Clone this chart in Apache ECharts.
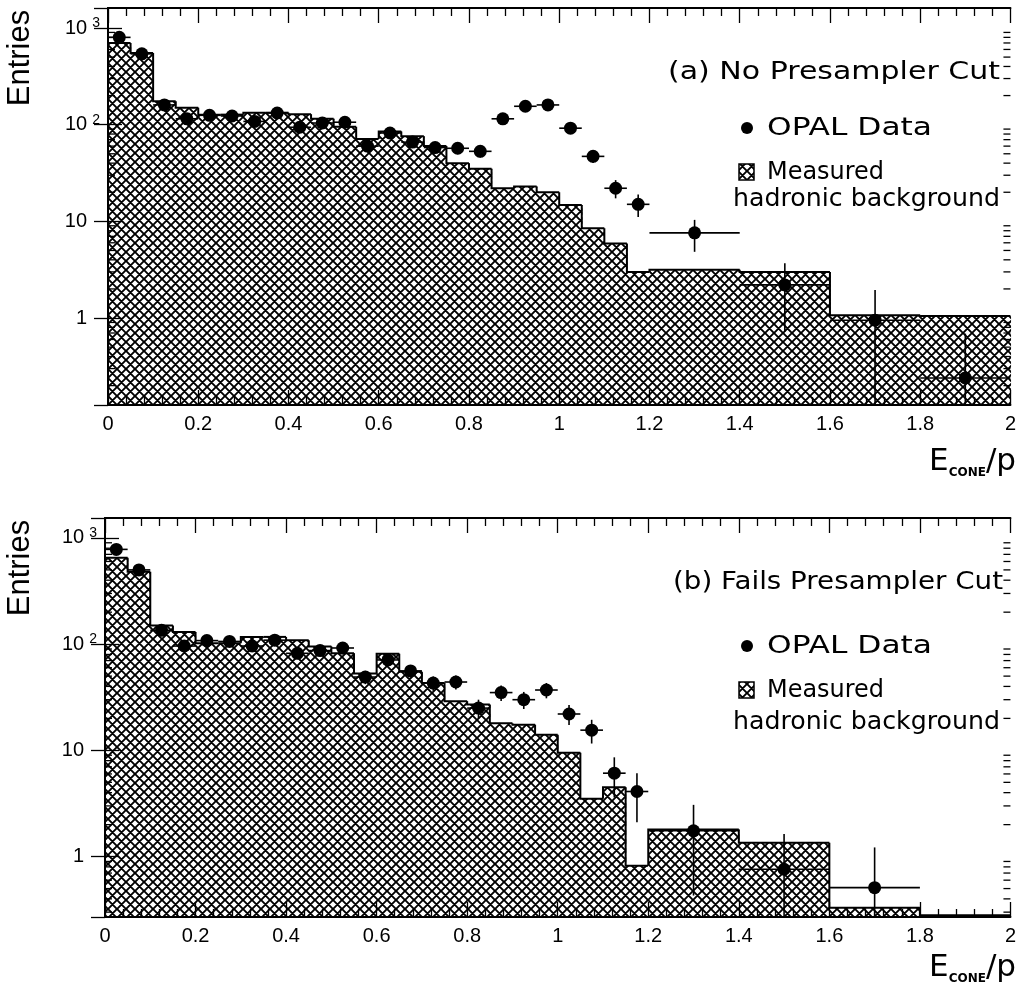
<!DOCTYPE html>
<html>
<head>
<meta charset="utf-8">
<title>E_cone/p</title>
<script src="https://cdn.jsdelivr.net/npm/echarts@6/dist/echarts.min.js"></script>
<style>
  html, body { margin: 0; padding: 0; background: #fff; }
  #chart { width: 1019px; height: 996px; }
</style>
</head>
<body>
<div id="chart"></div>
<script>
// bin edges of the histograms (E_cone/p)
var binEdges = [0, 0.05, 0.1, 0.15, 0.2, 0.25, 0.3, 0.35, 0.4, 0.45, 0.5, 0.55, 0.6, 0.65, 0.7, 0.75,
  0.8, 0.85, 0.9, 0.95, 1.0, 1.05, 1.1, 1.15, 1.2, 1.4, 1.6, 1.8, 2.0];

// measured hadronic background, one value per bin
var bgA = [700, 550, 175, 150, 127, 127, 133, 133, 128, 115, 95, 71, 85, 76, 60, 40,
  35, 22, 23, 20, 14.8, 8.5, 5.9, 3.0, 3.15, 3.0, 1.07, 1.05];
var bgB = [650, 480, 150, 130, 102, 102, 117, 117, 109, 95, 82, 53, 81, 55, 43, 29,
  27, 18, 17.4, 14, 9.5, 3.5, 4.5, 0.82, 1.8, 1.35, 0.33, 0.28];

// OPAL data points
var ptX = [0.025, 0.075, 0.125, 0.175, 0.225, 0.275, 0.325, 0.375, 0.425, 0.475, 0.525, 0.575,
  0.625, 0.675, 0.725, 0.775, 0.825, 0.875, 0.925, 0.975, 1.025, 1.075, 1.125, 1.175, 1.3, 1.5, 1.7, 1.9];
var ptXerr = [0.025, 0.025, 0.025, 0.025, 0.025, 0.025, 0.025, 0.025, 0.025, 0.025, 0.025, 0.025,
  0.025, 0.025, 0.025, 0.025, 0.025, 0.025, 0.025, 0.025, 0.025, 0.025, 0.025, 0.025, 0.1, 0.1, 0.1, 0.1];

var dataA = [800, 540, 160, 115, 125, 123, 108, 132, 94, 104, 106, 60,
  82, 66, 58, 57, 53, 115, 155, 160, 92, 47, 22, 15, 7.6, 2.2, 0.95, 0.24];
var errA = [28, 23, 12.6, 10.7, 11.2, 11.1, 10.4, 11.5, 9.7, 10.2, 10.3, 7.7,
  9.1, 8.1, 7.6, 7.5, 7.3, 10.7, 12.4, 12.6, 9.6, 6.9, 4.7, 3.9, 2.76, 1.48, 1.0, 0.45];

var dataB = [780, 500, 135, 96, 108, 106, 96, 109, 82, 87, 92, 49,
  71, 56, 43, 44, 25, 35, 30, 37, 22, 15.5, 6.1, 4.1, 1.75, 0.76, 0.51];
var errB = [28, 22, 11.6, 9.8, 10.4, 10.3, 9.8, 10.4, 9.1, 9.3, 9.6, 7,
  8.4, 7.5, 6.6, 6.6, 5, 5.9, 5.5, 6.1, 4.7, 3.9, 2.5, 2.0, 1.32, 0.87, 0.71];

// y ranges of the two log axes
var yRangeA = [0.126, 1610];
var yRangeB = [0.27, 1540];

var FONT = '"DejaVu Sans"';
var TICKFONT = '"Liberation Sans", Arial, sans-serif';

// cross hatch tile
function makeHatch(size, lw) {
  var c = document.createElement('canvas');
  c.width = c.height = size;
  var g = c.getContext('2d');
  g.fillStyle = '#fff';
  g.fillRect(0, 0, size, size);
  g.strokeStyle = '#000';
  g.lineWidth = lw;
  g.beginPath();
  for (var k = -1; k <= 1; k++) {
    g.moveTo(k * size, 0); g.lineTo(k * size + size, size);
    g.moveTo(k * size + size, 0); g.lineTo(k * size, size);
  }
  g.stroke();
  return c;
}
var hatch = { image: makeHatch(9, 1.9), repeat: 'repeat' };

// one item per bin: [x0, x1, value, previous value]
function histItems(vals, yMin) {
  return vals.map(function (v, i) {
    return [binEdges[i], binEdges[i + 1], v, i ? vals[i - 1] : yMin];
  });
}
function histRender(yMin) {
  return function (params, api) {
    var x0 = api.value(0), x1 = api.value(1), v = api.value(2), vp = api.value(3);
    var lo = api.coord([x0, yMin]), hi = api.coord([x1, v]);
    var prev = api.coord([x0, Math.max(vp, yMin)]);
    return {
      type: 'group',
      children: [
        {
          type: 'rect', silent: true,
          shape: { x: lo[0], y: hi[1], width: hi[0] - lo[0] + 0.6, height: lo[1] - hi[1] },
          style: { fill: hatch }
        },
        {
          type: 'polyline', silent: true,
          shape: { points: [[prev[0], prev[1]], [lo[0], hi[1]], [hi[0], hi[1]]] },
          style: { fill: null, stroke: '#000', lineWidth: 2 }
        }
      ]
    };
  };
}

function errItems(vals, errs) {
  return vals.map(function (v, i) { return [ptX[i], v, ptXerr[i], errs[i]]; });
}
function errRender(yMin) {
  return function (params, api) {
    var x = api.value(0), y = api.value(1), xe = api.value(2), ye = api.value(3);
    var lo = Math.max(y - ye, yMin);
    var a = api.coord([x - xe, y]), b = api.coord([x + xe, y]);
    var c = api.coord([x, lo]), d = api.coord([x, y + ye]);
    var st = { stroke: '#000', lineWidth: 1.6 };
    return {
      type: 'group',
      children: [
        { type: 'line', shape: { x1: a[0], y1: a[1], x2: b[0], y2: b[1] }, style: st },
        { type: 'line', shape: { x1: c[0], y1: c[1], x2: d[0], y2: d[1] }, style: st }
      ]
    };
  };
}

// minor ticks of log axes (2..9 per decade), both sides
function minorTickData(range) {
  var out = [];
  for (var d = -1; d <= 3; d++) {
    for (var k = 2; k <= 9; k++) {
      var v = k * Math.pow(10, d);
      if (v > range[0] && v < range[1]) out.push([0, v]);
    }
  }
  return out;
}
function minorTickRender(params, api) {
  var v = api.value(1);
  var l = api.coord([0, v]), r = api.coord([2, v]);
  var st = { stroke: '#000', lineWidth: 1.3 };
  return {
    type: 'group',
    children: [
      { type: 'line', shape: { x1: l[0], y1: l[1], x2: l[0] + 7, y2: l[1] }, style: st },
      { type: 'line', shape: { x1: r[0], y1: r[1], x2: r[0] - 7, y2: r[1] }, style: st }
    ]
  };
}

function logLabel(v) {
  var e = Math.round(Math.log10(v));
  if (e >= 2) return '{b|10}{sup|' + e + '}';
  return '{b|' + (e === 1 ? '10' : '1') + '}{pad|}';
}

function xAxes(grid) {
  var common = {
    type: 'value', min: 0, max: 2, interval: 0.2, gridIndex: grid, z: 6,
    axisLine: { show: true, lineStyle: { color: '#000', width: 2 } },
    axisTick: { show: true, inside: true, length: 15, lineStyle: { color: '#000', width: 1.3 } },
    minorTick: { show: true, splitNumber: 5, length: 8, lineStyle: { color: '#000', width: 1.3 } },
    splitLine: { show: false }
  };
  return [
    Object.assign({}, common, {
      position: 'bottom',
      axisLabel: { color: '#000', fontFamily: TICKFONT, fontSize: 20, margin: 9 }
    }),
    Object.assign({}, common, { position: 'top', axisLabel: { show: false } })
  ];
}

function yAxes(grid, range) {
  var common = {
    type: 'log', logBase: 10, min: range[0], max: range[1], gridIndex: grid, z: 6,
    axisLine: { show: true, lineStyle: { color: '#000', width: 2 } },
    axisTick: { show: true, inside: true, length: 14, lineStyle: { color: '#000', width: 1.3 } },
    splitLine: { show: false }
  };
  return [
    Object.assign({}, common, {
      position: 'left',
      axisLabel: {
        color: '#000', margin: 8, showMinLabel: false, showMaxLabel: false,
        formatter: logLabel,
        rich: {
          b: { fontFamily: TICKFONT, fontSize: 20, lineHeight: 24, color: '#000' },
          sup: { fontFamily: TICKFONT, fontSize: 14, lineHeight: 14, verticalAlign: 'top', color: '#000', padding: [0, 0, 0, 5] },
          pad: { width: 13 }
        }
      }
    }),
    Object.assign({}, common, { position: 'right', axisLabel: { show: false } })
  ];
}

function panelSeries(idx, bg, data, err, range) {
  var xi = idx * 2, yi = idx * 2;
  return [
    {
      type: 'custom', xAxisIndex: xi, yAxisIndex: yi, z: 2, silent: true,
      data: histItems(bg, range[0]), encode: { x: [0, 1], y: 2 },
      renderItem: histRender(range[0])
    },
    {
      type: 'custom', xAxisIndex: xi, yAxisIndex: yi, z: 3, silent: true,
      data: errItems(data, err), encode: { x: 0, y: 1 },
      renderItem: errRender(range[0])
    },
    {
      type: 'scatter', xAxisIndex: xi, yAxisIndex: yi, z: 4,
      data: data.map(function (v, i) { return [ptX[i], v]; }),
      symbol: 'circle', symbolSize: 13, itemStyle: { color: '#000', opacity: 1 }
    },
    {
      type: 'custom', xAxisIndex: xi, yAxisIndex: yi, z: 5, silent: true,
      data: minorTickData(range), encode: { x: 0, y: 1 },
      renderItem: minorTickRender
    }
  ];
}

// text stretched horizontally to a given width
var measureCtx = document.createElement('canvas').getContext('2d');
function fitText(str, x, y, w, size) {
  var font = size + 'px ' + FONT;
  measureCtx.font = font;
  var s = w / measureCtx.measureText(str).width;
  return {
    type: 'text', x: x, y: y, scaleX: s, z: 10,
    style: { text: str, font: font, fill: '#000', align: 'left', textAlign: 'left', verticalAlign: 'middle', textVerticalAlign: 'middle' }
  };
}

function panelText(top, title, titleX, titleW, offs) {
  return [
    fitText(title, titleX, top + offs[0], titleW, 25),
    { type: 'circle', shape: { cx: 747, cy: top + offs[1], r: 6 }, style: { fill: '#000' }, z: 10 },
    fitText('OPAL Data', 767, top + offs[1], 165, 25),
    { type: 'rect', shape: { x: 739, y: top + offs[2] - 8, width: 15, height: 16 }, style: { fill: hatch, stroke: '#000', lineWidth: 1.5 }, z: 10 },
    fitText('Measured', 767, top + offs[2], 117, 25),
    fitText('hadronic background', 733, top + offs[3], 267, 25),
    {
      type: 'text', x: 20, y: top + offs[4], rotation: Math.PI / 2, z: 10,
      style: { text: 'Entries', font: '31px ' + TICKFONT, fill: '#000', align: 'center', textAlign: 'center', verticalAlign: 'middle', textVerticalAlign: 'middle' }
    },
    {
      type: 'text', x: 1016, y: top + offs[5], z: 10,
      style: {
        text: '{e|E}{s|CONE}{e|/p}', align: 'right', textAlign: 'right', verticalAlign: 'middle', textVerticalAlign: 'middle',
        rich: {
          e: { fontFamily: FONT, fontSize: 31, lineHeight: 34, color: '#000' },
          s: { fontFamily: FONT, fontSize: 12, fontWeight: 'bold', lineHeight: 12, verticalAlign: 'bottom', color: '#000' }
        }
      }
    }
  ];
}

var chart = echarts.init(document.getElementById('chart'), null, { renderer: 'canvas' });

chart.setOption({
  animation: false,
  backgroundColor: '#fff',
  grid: [
    { left: 108, top: 8, width: 905, height: 397 },
    { left: 105, top: 518, width: 908, height: 399 }
  ],
  xAxis: xAxes(0).concat(xAxes(1)),
  yAxis: yAxes(0, yRangeA).concat(yAxes(1, yRangeB)),
  series: panelSeries(0, bgA, dataA, errA, yRangeA).concat(panelSeries(1, bgB, dataB, errB, yRangeB)),
  graphic: panelText(0, '(a) No Presampler Cut', 668, 332, [72, 128, 172, 199, 58, 462])
    .concat(panelText(510, '(b) Fails Presampler Cut', 673, 330, [72, 136, 180, 212, 58, 458]))
});
</script>
</body>
</html>
